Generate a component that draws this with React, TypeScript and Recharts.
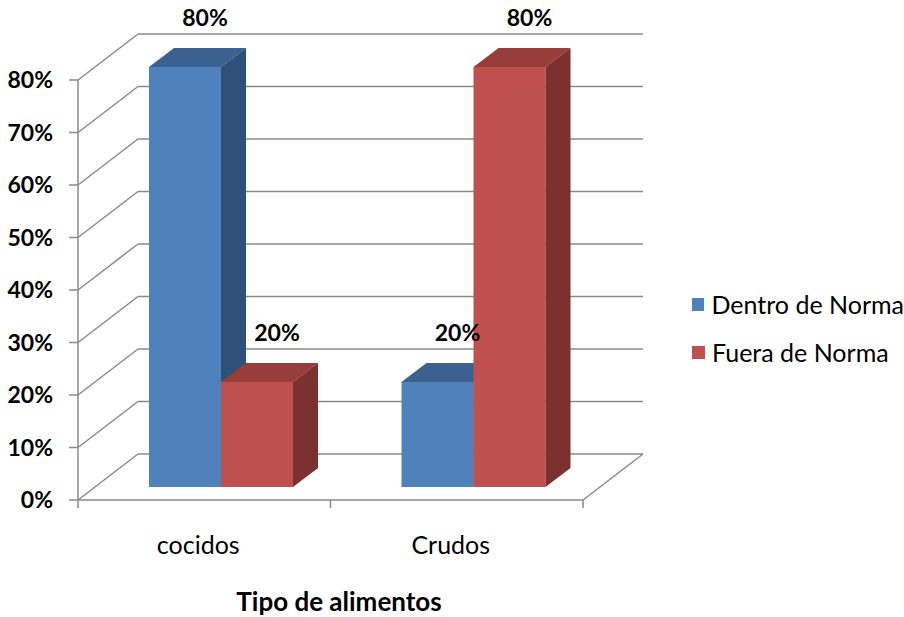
import { Bar, BarChart, CartesianGrid, LabelList, Legend, XAxis, YAxis } from "recharts";

const categories = ["cocidos", "Crudos"];
const dentroDeNorma = [80, 20];
const fueraDeNorma = [20, 80];
const yTicks = [0, 10, 20, 30, 40, 50, 60, 70, 80];

const rows = categories.map((name, i) => ({ name, dentro: dentroDeNorma[i], fuera: fueraDeNorma[i] }));

const W = 904;
const H = 617;
// front plane of the plot (where the axes sit)
const left = 78;
const right = 583;
const top = 80;
const bottom = 500;
const yAxisWidth = 70;
const xAxisHeight = 40;
// how far the back wall is pushed back
const depthX = 60;
const depthY = -46;
// bars start a bit into the floor and are this deep
const frontX = 17;
const frontY = -13;
const barDX = 25;
const barDY = -19;

const grid = "#8a8a8a";
const font = "Lato, 'Open Sans', sans-serif";

const blue = { front: "#4F81BD", top: "#3C6190", side: "#2F5079" };
const red = { front: "#C0504D", top: "#973D3A", side: "#7B312F" };

type Tone = typeof blue;

function Box(props: any & { tone: Tone }) {
  const { x, y, width, height, tone } = props;
  if (!height) return null;
  const fx = x + frontX;
  const fy = y + frontY;
  const topFace = [
    [fx, fy],
    [fx + width, fy],
    [fx + width + barDX, fy + barDY],
    [fx + barDX, fy + barDY],
  ];
  const sideFace = [
    [fx + width, fy],
    [fx + width + barDX, fy + barDY],
    [fx + width + barDX, fy + height + barDY],
    [fx + width, fy + height],
  ];
  const pts = (p: number[][]) => p.map((q) => q.join(",")).join(" ");
  return (
    <g>
      <rect x={fx} y={fy} width={width} height={height} fill={tone.front} />
      <polygon points={pts(topFace)} fill={tone.top} />
      <polygon points={pts(sideFace)} fill={tone.side} />
    </g>
  );
}

function BarValue(props: any) {
  const { x, y, width, value } = props;
  return (
    <text
      x={x + width / 2 + frontX + 20}
      y={y + frontY + barDY - 30}
      dy="0.35em"
      textAnchor="middle"
      fontFamily={font}
      fontWeight="bold"
      fontSize={23}
      fill="#000"
    >
      {value}%
    </text>
  );
}

// left side wall diagonal plus the back wall line for each y tick
function WallLine(props: any) {
  const { y1 } = props;
  const by = y1 + depthY;
  return (
    <g>
      <line x1={left} y1={y1} x2={left + depthX} y2={by} stroke={grid} strokeWidth={1.5} />
      <line x1={left + depthX} y1={by} x2={right + depthX} y2={by} stroke={grid} strokeWidth={1.5} />
      {Math.abs(y1 - bottom) < 1 && (
        <line x1={right} y1={y1} x2={right + depthX} y2={by} stroke={grid} strokeWidth={1.5} />
      )}
    </g>
  );
}

function YTick(props: any) {
  const { y, payload } = props;
  return (
    <text x={left - 25} y={y} dy="0.35em" textAnchor="end" fontFamily={font} fontWeight="bold" fontSize={23} fill="#000">
      {payload.value}%
    </text>
  );
}

const band = (right - left) / categories.length;

function XTick(props: any) {
  const { x, payload, index } = props;
  return (
    <g>
      <line x1={x - band / 2} y1={bottom} x2={x - band / 2} y2={bottom + 8} stroke={grid} strokeWidth={1.5} />
      {index === categories.length - 1 && (
        <line x1={x + band / 2} y1={bottom} x2={x + band / 2} y2={bottom + 8} stroke={grid} strokeWidth={1.5} />
      )}
      <text x={x - 6} y={545} dy="0.35em" textAnchor="middle" fontFamily={font} fontSize={25} fill="#000">
        {payload.value}
      </text>
    </g>
  );
}

function LegendBox({ payload }: any) {
  return (
    <div style={{ fontFamily: font, fontSize: 25, color: "#000" }}>
      {(payload ?? []).map((entry: any) => (
        <div key={entry.value} style={{ display: "flex", alignItems: "center", height: 48, whiteSpace: "nowrap" }}>
          <span style={{ display: "inline-block", width: 13, height: 13, background: entry.color, marginRight: 7 }} />
          <span>{entry.value}</span>
        </div>
      ))}
    </div>
  );
}

export default function App() {
  return (
    <div style={{ position: "absolute", left: 0, top: 0, background: "#fff" }}>
      <BarChart
        width={W}
        height={H}
        data={rows}
        barGap={0}
        barSize={72}
        margin={{ top, right: W - right, bottom: H - bottom - xAxisHeight, left: left - yAxisWidth }}
      >
        <CartesianGrid vertical={false} horizontal={WallLine} />
        <YAxis
          width={yAxisWidth}
          domain={[0, 80]}
          ticks={yTicks}
          tick={YTick}
          tickSize={9}
          axisLine={{ stroke: grid, strokeWidth: 1.5 }}
          tickLine={{ stroke: grid, strokeWidth: 1.5 }}
        />
        <XAxis
          dataKey="name"
          height={xAxisHeight}
          tick={XTick}
          tickLine={false}
          axisLine={{ stroke: grid, strokeWidth: 1.5 }}
          label={() => (
            <text x={339} y={602} dy="0.35em" textAnchor="middle" fontFamily={font} fontWeight="bold" fontSize={26} fill="#000">
              Tipo de alimentos
            </text>
          )}
        />
        <Legend
          layout="horizontal"
          verticalAlign="middle"
          align="center"
          wrapperStyle={{ left: 692, top: 280, width: 212 }}
          content={LegendBox}
        />
        <Bar dataKey="dentro" name="Dentro de Norma" fill={blue.front} isAnimationActive={false} shape={(p: any) => <Box {...p} tone={blue} />}>
          <LabelList dataKey="dentro" content={BarValue} />
        </Bar>
        <Bar dataKey="fuera" name="Fuera de Norma" fill={red.front} isAnimationActive={false} shape={(p: any) => <Box {...p} tone={red} />}>
          <LabelList dataKey="fuera" content={BarValue} />
        </Bar>
      </BarChart>
    </div>
  );
}
